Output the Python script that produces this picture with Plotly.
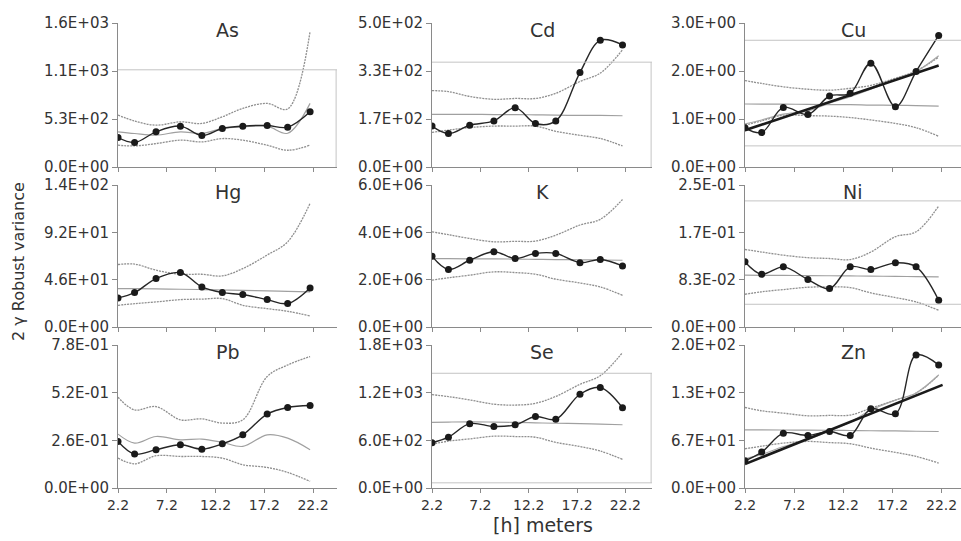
import plotly.graph_objects as go

# ---------------- data ----------------
lags = [2.2, 3.9, 6.1, 8.6, 10.8, 12.9, 15.0, 17.5, 19.6, 21.9]
x_ticks = [2.2, 7.2, 12.2, 17.2, 22.2]
x_tick_labels = ["2.2", "7.2", "12.2", "17.2", "22.2"]
elements = ["As", "Cd", "Cu", "Hg", "K", "Ni", "Pb", "Se", "Zn"]

# experimental variograms (2*gamma robust)
as_exp = [327, 272, 391, 454, 350, 428, 454, 461, 443, 614]
cd_exp = [142, 116, 145, 160, 206, 151, 160, 328, 440, 424]
cu_exp = [0.816, 0.719, 1.242, 1.095, 1.479, 1.535, 2.163, 1.256, 1.988, 2.742]
hg_exp = [28.7, 33.9, 47.8, 53.7, 39.5, 33.9, 32.0, 27.0, 23.1, 38.5]
k_exp = [2.99e6, 2.43e6, 2.82e6, 3.18e6, 2.89e6, 3.11e6, 3.11e6, 2.72e6, 2.85e6, 2.58e6]
ni_exp = [0.1147, 0.0929, 0.1059, 0.0835, 0.0676, 0.1059, 0.1012, 0.1129, 0.1059, 0.0471]
pb_exp = [0.254, 0.185, 0.209, 0.236, 0.212, 0.241, 0.290, 0.403, 0.439, 0.450]
se_exp = [570, 640, 810, 775, 795, 900, 865, 1180, 1265, 1010]
zn_exp = [38.1, 50.2, 76.7, 73.5, 79.1, 73.5, 110.7, 103.7, 186, 172]

# model / reference lines (thin gray solid)
as_model = [391, 372, 353, 391, 372, 428, 446, 454, 375, 707]
cd_model = [183, 183, 183, 182, 182, 181, 180, 179, 179, 178]
cu_model = [1.312, 1.31, 1.31, 1.305, 1.30, 1.30, 1.29, 1.285, 1.28, 1.27]
hg_model = [37.9, 37.8, 37.5, 37.2, 36.9, 36.5, 36.1, 35.6, 35.1, 34.6]
k_model = [2.89e6, 2.89e6, 2.88e6, 2.88e6, 2.87e6, 2.86e6, 2.85e6, 2.84e6, 2.83e6, 2.82e6]
ni_model = [0.0912, 0.0910, 0.0908, 0.0905, 0.0902, 0.0899, 0.0895, 0.0891, 0.0887, 0.0882]
pb_model = [0.294, 0.245, 0.281, 0.263, 0.267, 0.249, 0.227, 0.290, 0.272, 0.209]
se_model = [826, 830, 833, 830, 826, 820, 815, 810, 805, 796]
zn_model = [81.4, 81.3, 81.1, 80.9, 80.7, 80.4, 80.1, 79.8, 79.4, 79.0]

# trend models (thin gray, Cu and Zn)
cu_trend = [0.90, 0.98, 1.10, 1.17, 1.33, 1.465, 1.62, 1.828, 1.988, 2.316]
zn_trend = [40.9, 47.0, 58.0, 68.0, 80.0, 92.0, 109.0, 123.0, 133.0, 158.0]

# upper / lower envelopes (dotted)
as_upper = [577, 510, 465, 502, 484, 558, 651, 707, 645, 1507]
as_lower = [242, 234, 260, 298, 279, 316, 298, 242, 186, 242]
cd_upper = [265, 262, 245, 235, 238, 238, 256, 297, 326, 407]
cd_lower = [120, 128, 137, 142, 142, 142, 124, 110, 99, 73]
cu_upper = [1.80, 1.74, 1.67, 1.62, 1.60, 1.64, 1.70, 1.85, 2.00, 2.29]
cu_lower = [0.87, 0.96, 1.08, 1.07, 1.06, 1.03, 0.98, 0.907, 0.82, 0.64]
hg_upper = [61.6, 62.0, 56.0, 52.0, 52.0, 50.4, 57.6, 71.0, 84.0, 121.9]
hg_lower = [21.4, 23.0, 24.7, 27.0, 27.5, 28.0, 21.4, 18.1, 15.5, 10.9]
k_upper = [4.02e6, 3.90e6, 3.74e6, 3.60e6, 3.62e6, 3.63e6, 3.88e6, 4.31e6, 4.55e6, 5.39e6]
k_lower = [1.98e6, 2.08e6, 2.19e6, 2.33e6, 2.30e6, 2.23e6, 2.02e6, 1.86e6, 1.69e6, 1.34e6]
ni_upper = [0.1365, 0.132, 0.1265, 0.122, 0.1206, 0.1188, 0.132, 0.159, 0.1676, 0.213]
ni_lower = [0.0576, 0.062, 0.0659, 0.0700, 0.0706, 0.0694, 0.060, 0.0518, 0.0441, 0.0294]
pb_upper = [0.495, 0.426, 0.444, 0.372, 0.377, 0.354, 0.372, 0.608, 0.671, 0.717]
pb_lower = [0.163, 0.132, 0.176, 0.172, 0.172, 0.163, 0.127, 0.112, 0.085, 0.036]
se_upper = [1175, 1150, 1109, 1055, 1044, 1066, 1153, 1305, 1414, 1705]
se_lower = [552, 590, 618, 652, 648, 639, 574, 522, 465, 361]
zn_upper = [112.6, 108.0, 104.7, 101.0, 101.5, 102.0, 111.6, 123.0, 132.6, 158.0]
zn_lower = [54.9, 58.5, 62.8, 65.1, 63.5, 61.9, 55.8, 49.8, 44.2, 34.9]

# linear fits (thick black) for Cu and Zn: start / end lag and values
cu_fit_x = [2.2, 21.9]
cu_fit_y = [0.767, 2.114]
zn_fit_x = [2.2, 22.3]
zn_fit_y = [33.5, 144.2]

# y axis maxima and tick labels
y_max = [1600, 500, 3.0, 140, 6.0e6, 0.25, 0.78, 1800, 200]
y_tick_labels = [
    ["0.0E+00", "5.3E+02", "1.1E+03", "1.6E+03"],
    ["0.0E+00", "1.7E+02", "3.3E+02", "5.0E+02"],
    ["0.0E+00", "1.0E+00", "2.0E+00", "3.0E+00"],
    ["0.0E+00", "4.6E+01", "9.2E+01", "1.4E+02"],
    ["0.0E+00", "2.0E+06", "4.0E+06", "6.0E+06"],
    ["0.0E+00", "8.3E-02", "1.7E-01", "2.5E-01"],
    ["0.0E+00", "2.6E-01", "5.2E-01", "7.8E-01"],
    ["0.0E+00", "6.0E+02", "1.2E+03", "1.8E+03"],
    ["0.0E+00", "6.7E+01", "1.3E+02", "2.0E+02"],
]

# plot-area border remnants (top, bottom) in data units; None = absent
box_top = [1080, 364, 2.64, None, None, 0.222, None, 1444, None]
box_bottom = [None, None, 0.44, None, None, 0.04, None, 65, None]
box_right = [True, True, False, False, False, False, False, True, False]

exp_all = [as_exp, cd_exp, cu_exp, hg_exp, k_exp, ni_exp, pb_exp, se_exp, zn_exp]
model_all = [as_model, cd_model, cu_model, hg_model, k_model, ni_model, pb_model, se_model, zn_model]
upper_all = [as_upper, cd_upper, cu_upper, hg_upper, k_upper, ni_upper, pb_upper, se_upper, zn_upper]
lower_all = [as_lower, cd_lower, cu_lower, hg_lower, k_lower, ni_lower, pb_lower, se_lower, zn_lower]
trend_all = {2: cu_trend, 8: zn_trend}
fit_all = {2: (cu_fit_x, cu_fit_y), 8: (zn_fit_x, zn_fit_y)}

# ---------------- layout geometry ----------------
W, H = 961, 541
col_px = [(118, 337), (432, 652), (745, 961)]
row_px = [(23, 167), (185, 327), (345, 488)]
x_end = [24.66, 24.95, 24.17]

FONT = "DejaVu Sans"
TXT = "#333333"
AX = "#8a8a8a"

fig = go.Figure()
layout = dict(
    template="none",
    width=W, height=H, margin=dict(l=0, r=0, t=0, b=0, pad=0, autoexpand=False),
    paper_bgcolor="white", plot_bgcolor="white", showlegend=False,
    font=dict(family=FONT, color=TXT),
)
annotations = []
shapes = []

for i, el in enumerate(elements):
    r, c = divmod(i, 3)
    n = i + 1
    xa = "x" if n == 1 else f"x{n}"
    ya = "y" if n == 1 else f"y{n}"
    xk = "xaxis" if n == 1 else f"xaxis{n}"
    yk = "yaxis" if n == 1 else f"yaxis{n}"
    (cx0, cx1), (ry0, ry1) = col_px[c], row_px[r]
    m = y_max[i]
    layout[xk] = dict(
        domain=[cx0 / W, cx1 / W], anchor=ya, range=[2.2, x_end[c]],
        tickvals=x_ticks, ticktext=x_tick_labels, showticklabels=(r == 2),
        ticks="outside", ticklen=4, tickcolor=AX, showline=True, linecolor=AX,
        linewidth=1, showgrid=False, zeroline=False, automargin=False,
        ticklabeloverflow="allow",
        tickfont=dict(family=FONT, size=14, color=TXT),
    )
    layout[yk] = dict(
        domain=[1 - ry1 / H, 1 - ry0 / H], anchor=xa, range=[0, m],
        tickvals=[0, m / 3, 2 * m / 3, m], ticktext=y_tick_labels[i],
        ticks="outside", ticklen=5, tickcolor=AX, showline=True, linecolor=AX,
        linewidth=1, showgrid=False, zeroline=False, automargin=False,
        ticklabeloverflow="allow",
        tickfont=dict(family=FONT, size=15, color=TXT),
    )

    # border remnants
    bcol = "#c4c4c4"
    if box_top[i] is not None:
        shapes.append(dict(type="line", xref=f"{xa} domain", yref=ya, x0=0, x1=1,
                           y0=box_top[i], y1=box_top[i], line=dict(color=bcol, width=1)))
    if box_bottom[i] is not None:
        shapes.append(dict(type="line", xref=f"{xa} domain", yref=ya, x0=0, x1=1,
                           y0=box_bottom[i], y1=box_bottom[i], line=dict(color=bcol, width=1)))
    if box_right[i]:
        yb = box_bottom[i] if box_bottom[i] is not None else 0
        shapes.append(dict(type="line", xref=f"{xa} domain", yref=ya, x0=0.996, x1=0.996,
                           y0=yb, y1=box_top[i], line=dict(color=bcol, width=1)))

    # envelopes
    for env in (upper_all[i], lower_all[i]):
        fig.add_trace(go.Scatter(x=lags, y=env, xaxis=xa, yaxis=ya, mode="lines",
                                 line=dict(color="#8f8f8f", width=1.3, dash="2px,1px",
                                           shape="spline"), hoverinfo="skip"))
    # model line
    fig.add_trace(go.Scatter(x=lags, y=model_all[i], xaxis=xa, yaxis=ya, mode="lines",
                             line=dict(color="#a0a0a0", width=1.2, shape="spline"),
                             hoverinfo="skip"))
    if i in trend_all:
        fig.add_trace(go.Scatter(x=lags, y=trend_all[i], xaxis=xa, yaxis=ya, mode="lines",
                                 line=dict(color="#a8a8a8", width=1.2, shape="spline"),
                                 hoverinfo="skip"))
    # experimental
    fig.add_trace(go.Scatter(x=lags, y=exp_all[i], xaxis=xa, yaxis=ya, mode="lines+markers",
                             line=dict(color="#262626", width=1.4, shape="spline"),
                             marker=dict(color="#1a1a1a", size=7)))
    if i in fit_all:
        fx, fy = fit_all[i]
        fig.add_trace(go.Scatter(x=fx, y=fy, xaxis=xa, yaxis=ya, mode="lines",
                                 line=dict(color="#1a1a1a", width=2.6), hoverinfo="skip"))

    # panel title
    annotations.append(dict(text=el, xref=f"{xa} domain", yref=f"{ya} domain",
                            x=0.5, y=0.95, xanchor="center", yanchor="middle",
                            showarrow=False, font=dict(family=FONT, size=19, color=TXT)))

annotations.append(dict(text="2 \u03b3 Robust variance", xref="paper", yref="paper",
                        x=18 / W, y=1 - 262 / H, textangle=-90, showarrow=False,
                        xanchor="center", yanchor="middle",
                        font=dict(family=FONT, size=16, color=TXT)))
annotations.append(dict(text="[h] meters", xref="paper", yref="paper",
                        x=543 / W, y=1 - 525 / H, showarrow=False,
                        xanchor="center", yanchor="middle",
                        font=dict(family=FONT, size=19, color=TXT)))

layout["annotations"] = annotations
layout["shapes"] = shapes
fig.update_layout(**layout)
fig.write_html("out.html", config={"displayModeBar": False},
               post_script="document.body.style.margin='0px';document.body.style.overflow='hidden';")
